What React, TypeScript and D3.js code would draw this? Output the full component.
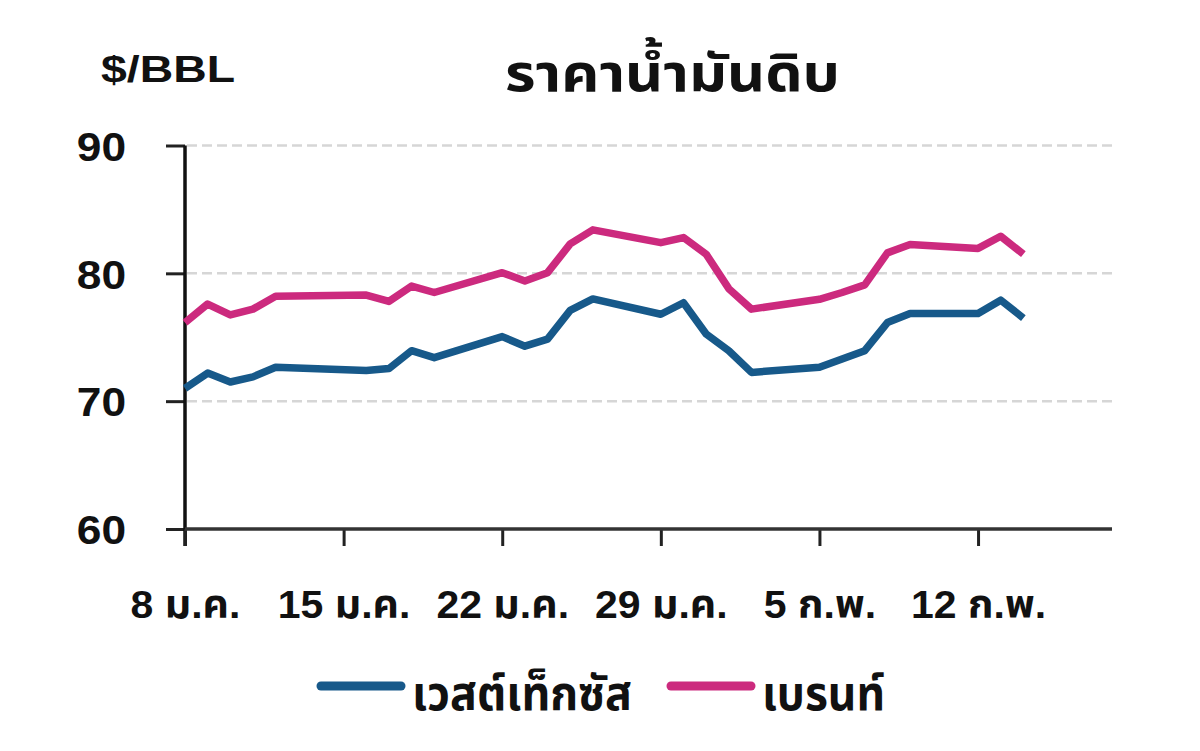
import { useEffect, useRef } from 'react';
import * as d3 from 'd3';

const dates = [
  '2024-01-08', '2024-01-09', '2024-01-10', '2024-01-11', '2024-01-12',
  '2024-01-16', '2024-01-17', '2024-01-18', '2024-01-19',
  '2024-01-22', '2024-01-23', '2024-01-24', '2024-01-25', '2024-01-26',
  '2024-01-29', '2024-01-30', '2024-01-31', '2024-02-01', '2024-02-02',
  '2024-02-05', '2024-02-06', '2024-02-07', '2024-02-08', '2024-02-09',
  '2024-02-12', '2024-02-13', '2024-02-14',
];

const wti = [
  71.0, 72.2, 71.5, 71.9, 72.65,
  72.4, 72.55, 73.95, 73.4,
  75.05, 74.3, 74.85, 77.1, 78.0,
  76.8, 77.7, 75.25, 73.95, 72.25,
  72.65, 73.3, 73.95, 76.15, 76.85,
  76.85, 77.9, 76.5,
];

const brent = [
  76.15, 77.6, 76.75, 77.2, 78.2,
  78.3, 77.8, 79.0, 78.5,
  80.05, 79.4, 80.05, 82.3, 83.4,
  82.4, 82.8, 81.5, 78.8, 77.2,
  77.97, 78.5, 79.1, 81.6, 82.25,
  81.95, 82.9, 81.5,
];

const tickDates = ['2024-01-08', '2024-01-15', '2024-01-22', '2024-01-29', '2024-02-05', '2024-02-12'];
const tickLabels = ['8 ม.ค.', '15 ม.ค.', '22 ม.ค.', '29 ม.ค.', '5 ก.พ.', '12 ก.พ.'];
const yTicks = [60, 70, 80, 90];
const gridValues = [70, 80, 90];

const seriesNames = ['เวสต์เท็กซัส', 'เบรนท์'];
const seriesColors = ['#17598a', '#cc2a7e'];

const title = 'ราคาน้ำมันดิบ';
const unitLabel = '$/BBL';

const FONT = "'Liberation Sans', Arial, 'Noto Sans Thai', 'Noto Sans', sans-serif";

// widen a text node horizontally by a factor (the source type is wider than ours)
function stretch(node: SVGTextElement, factor: number) {
  const len = node.getComputedTextLength();
  node.setAttribute('textLength', String(len * factor));
  node.setAttribute('lengthAdjust', 'spacingAndGlyphs');
}

export default function App() {
  const svgRef = useRef<SVGSVGElement>(null);

  useEffect(() => {
    if (!svgRef.current) return;
    document.body.style.margin = '0';

    const width = 1200;
    const height = 751;
    const svg = d3.select(svgRef.current);
    svg.selectAll('*').remove();
    svg.attr('width', width).attr('height', height);

    const parse = d3.utcParse('%Y-%m-%d');
    const x = d3
      .scaleUtc()
      .domain([parse('2024-01-08')!, parse('2024-02-18')!])
      .range([185, 1114]);
    const y = d3.scaleLinear().domain([60, 90]).range([529, 145.5]);

    // dashed gridlines
    svg
      .append('g')
      .selectAll('line')
      .data(gridValues)
      .join('line')
      .attr('x1', 187)
      .attr('x2', 1112)
      .attr('y1', (d) => y(d))
      .attr('y2', (d) => y(d))
      .attr('stroke', '#d6d6d6')
      .attr('stroke-width', 2.5)
      .attr('stroke-dasharray', '10,5');

    // y axis
    const yAxis = d3
      .axisLeft(y)
      .tickValues(yTicks)
      .tickSize(19)
      .tickPadding(40)
      .tickFormat((d) => String(d));
    const gy = svg.append('g').attr('transform', 'translate(185,0)').call(yAxis);
    gy.select('.domain').remove();
    gy.selectAll('line').attr('stroke', '#222').attr('stroke-width', 3);
    gy.selectAll<SVGTextElement, unknown>('text')
      .attr('font-family', FONT)
      .attr('font-weight', 'bold')
      .attr('font-size', 41)
      .attr('fill', '#111')
      .attr('dy', '0.36em')
      .each(function () {
        stretch(this, 1.08);
      });
    svg
      .append('line')
      .attr('x1', 185)
      .attr('x2', 185)
      .attr('y1', y(90))
      .attr('y2', 546)
      .attr('stroke', '#111')
      .attr('stroke-width', 3.5);

    // x axis
    const xAxis = d3
      .axisBottom(x)
      .tickValues(tickDates.map((d) => parse(d)!))
      .tickSize(17)
      .tickPadding(44)
      .tickFormat((_, i) => tickLabels[i]);
    const gx = svg.append('g').attr('transform', `translate(0,${y(60)})`).call(xAxis);
    gx.select('.domain').remove();
    gx.selectAll('line').attr('stroke', '#222').attr('stroke-width', 3);
    gx.selectAll<SVGTextElement, unknown>('text')
      .attr('font-family', FONT)
      .attr('font-weight', 'bold')
      .attr('font-size', 39)
      .attr('fill', '#111')
      .each(function () {
        stretch(this, 1.05);
      });
    svg
      .append('line')
      .attr('x1', 185)
      .attr('x2', 1112)
      .attr('y1', y(60))
      .attr('y2', y(60))
      .attr('stroke', '#333')
      .attr('stroke-width', 3.5);

    // series lines
    const line = d3
      .line<number>()
      .x((_, i) => x(parse(dates[i])!))
      .y((d) => y(d));
    [wti, brent].forEach((values, s) => {
      svg
        .append('path')
        .datum(values)
        .attr('d', line)
        .attr('fill', 'none')
        .attr('stroke', seriesColors[s])
        .attr('stroke-width', 7.5)
        .attr('stroke-linejoin', 'round');
    });

    // title + unit
    svg
      .append('text')
      .attr('x', 505)
      .attr('y', 91)
      .attr('font-family', FONT)
      .attr('font-weight', 'bold')
      .attr('font-size', 52)
      .attr('fill', '#111')
      .attr('textLength', 335)
      .attr('lengthAdjust', 'spacingAndGlyphs')
      .text(title);
    svg
      .append('text')
      .attr('x', 101)
      .attr('y', 82)
      .attr('font-family', FONT)
      .attr('font-weight', 'bold')
      .attr('font-size', 37)
      .attr('fill', '#111')
      .attr('textLength', 134)
      .attr('lengthAdjust', 'spacingAndGlyphs')
      .text(unitLabel);

    // legend
    const legendX = [317, 667];
    const legendTextWidth = [220, 123];
    seriesNames.forEach((name, i) => {
      const lg = svg.append('g').attr('transform', `translate(${legendX[i]},686)`);
      lg.append('line')
        .attr('x1', 4)
        .attr('x2', 84)
        .attr('stroke', seriesColors[i])
        .attr('stroke-width', 9)
        .attr('stroke-linecap', 'round');
      lg.append('text')
        .attr('x', 95)
        .attr('dy', '0.5em')
        .attr('font-family', FONT)
        .attr('font-weight', 'bold')
        .attr('font-size', 48)
        .attr('fill', '#111')
        .attr('textLength', legendTextWidth[i])
        .attr('lengthAdjust', 'spacingAndGlyphs')
        .text(name);
    });
  }, []);

  return <svg ref={svgRef} style={{ display: 'block' }} />;
}
